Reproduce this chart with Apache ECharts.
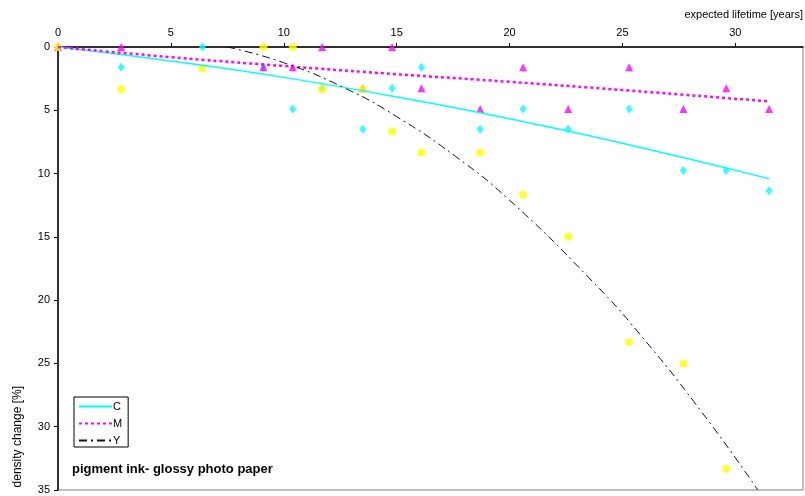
<!DOCTYPE html>
<html>
<head>
<meta charset="utf-8">
<script src="https://cdn.jsdelivr.net/npm/echarts@6/dist/echarts.min.js"></script>
<style>
  html, body { margin: 0; padding: 0; background: #fff; }
  #chart { width: 805px; height: 496px; }
</style>
</head>
<body>
<div id="chart"></div>
<script>
// measurement points (expected lifetime in years)
var years = [0, 2.8, 6.4, 9.1, 10.4, 11.7, 13.5, 14.8, 16.1, 18.7, 20.6, 22.6, 25.3, 27.7, 29.6, 31.5];
// density change [%] per ink
var cyanVals    = [0, 1.6, 0, 1.6, 4.9, 3.25, 6.5, 3.25, 1.6, 6.5, 4.9, 6.5, 4.9, 9.75, 9.75, 11.35];
var magentaVals = [0, 0, null, 1.6, 1.6, 0, 3.25, 0, 3.25, 4.9, 1.6, 4.9, 1.6, 4.9, 3.25, 4.9];
var yellowVals  = [0, 3.33, 1.67, 0, 0, 3.33, 3.33, 6.67, 8.33, 8.33, 11.67, 15, 23.33, 25, 33.33, null];

// trend lines
var trendC = [[0, 0], [5, 1.1], [10, 2.4], [16, 4.27], [20, 5.67], [25, 7.6], [31.5, 10.4]];
var trendM = [[0, 0], [5, 0.8], [10, 1.5], [15, 2.15], [20, 2.75], [25, 3.4], [31.5, 4.3]];
var trendY = [[7.5, 0], [10, 1.24], [12.8, 3.33], [15, 5.5], [17.6, 8.63], [20, 12.1], [23.5, 18.2], [25.8, 22.75], [28.75, 29.4], [31, 35]];

function pairs(vals) {
    var out = [];
    for (var i = 0; i < years.length; i++) {
        if (vals[i] !== null) out.push([years[i], vals[i]]);
    }
    return out;
}

var myChart = echarts.init(document.getElementById('chart'));

var font = 'Liberation Sans, Arial, sans-serif';

var option = {
    animation: false,
    textStyle: { fontFamily: font },
    grid: {
        left: 58, top: 47, right: 2, bottom: 6,
        show: true, borderColor: '#808080', borderWidth: 1
    },
    xAxis: {
        type: 'value',
        position: 'top',
        min: 0, max: 33, interval: 5,
        axisLine: { lineStyle: { color: '#000', width: 1.5 } },
        axisTick: { length: 4, lineStyle: { color: '#000' } },
        axisLabel: { color: '#000', fontSize: 11, margin: 9, showMaxLabel: false, fontFamily: font },
        splitLine: { show: false }
    },
    yAxis: {
        type: 'value',
        inverse: true,
        min: 0, max: 35, interval: 5,
        axisLine: { show: true, lineStyle: { color: '#000', width: 1.5 } },
        axisTick: { show: true, length: 4, lineStyle: { color: '#000' } },
        axisLabel: { color: '#000', fontSize: 11, margin: 8, fontFamily: font },
        splitLine: { show: false }
    },
    legend: {
        data: ['C', 'M', 'Y'],
        orient: 'vertical',
        left: 74, top: 397,
        itemWidth: 33, itemHeight: 12, itemGap: 6,
        padding: [4, 6, 1, 4],
        borderColor: '#000', borderWidth: 1,
        itemStyle: { opacity: 0 },
        textStyle: { color: '#000', fontSize: 11, padding: [0, 0, 0, -4] }
    },
    graphic: [
        { type: 'text', right: 2, top: 9, style: { text: 'expected lifetime [years]', fill: '#000', font: '11px ' + font } },
        { type: 'text', left: 12, top: 386, rotation: Math.PI / 2, style: { text: 'density change [%]', fill: '#000', font: '12px ' + font } },
        { type: 'text', left: 72, top: 463, style: { text: 'pigment ink- glossy photo paper', fill: '#000', font: 'bold 13px ' + font } }
    ],
    series: [
        {
            name: 'C data', type: 'scatter', symbol: 'diamond', symbolSize: [7, 9], z: 2,
            itemStyle: { color: '#00FFFF' }, data: pairs(cyanVals)
        },
        {
            name: 'M data', type: 'scatter', symbol: 'triangle', symbolSize: 8, z: 3,
            itemStyle: { color: '#FF00FF' }, data: pairs(magentaVals)
        },
        {
            name: 'Y data', type: 'scatter', symbol: 'circle', symbolSize: 8, z: 4,
            itemStyle: { color: '#FFFF00' }, data: pairs(yellowVals)
        },
        {
            name: 'C', type: 'line', smooth: true, symbol: 'none', z: 5,
            itemStyle: { color: '#00FFFF' },
            lineStyle: { color: '#00FFFF', width: 1.5 }, data: trendC
        },
        {
            name: 'M', type: 'line', smooth: true, symbol: 'none', z: 5,
            itemStyle: { color: '#FF00FF' },
            lineStyle: { color: '#FF00FF', width: 2.5, type: [3, 3] }, data: trendM
        },
        {
            name: 'Y', type: 'line', smooth: true, symbol: 'none', z: 5,
            itemStyle: { color: '#000' },
            lineStyle: { color: '#111', width: 1, type: [8, 4, 2, 4] }, data: trendY
        }
    ]
};

myChart.setOption(option);
</script>
</body>
</html>
